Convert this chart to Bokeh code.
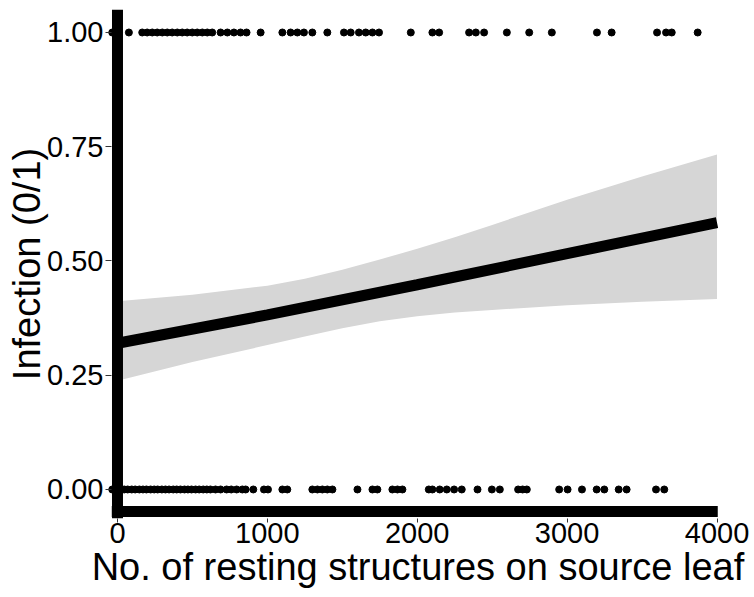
from bokeh.plotting import figure
from bokeh.models import Range1d, FixedTicker
from bokeh.embed import file_html
from bokeh.resources import INLINE

# Observations: infection = 1 (top row) and infection = 0 (bottom row)
infected_x = [-35, 0, 76, 165, 198, 232, 265, 299, 332, 365, 399, 432, 465, 499, 532,
              566, 599, 632, 688, 733, 777, 821, 861, 955, 1100, 1155, 1200, 1244,
              1300, 1400, 1511, 1556, 1611, 1656, 1701, 1745, 1957, 2101, 2146, 2346,
              2391, 2446, 2598, 2747, 2898, 3199, 3297, 3600, 3660, 3698, 3871]
healthy_x = [-35, 0, 22, 45, 68, 95, 118, 146, 170, 193, 221, 245, 268, 296, 320, 344,
             372, 395, 420, 447, 470, 494, 521, 545, 572, 596, 620, 654, 688, 728, 759,
             795, 833, 855, 906, 977, 1004, 1100, 1133, 1300, 1334, 1367, 1400, 1434,
             1601, 1701, 1734, 1834, 1868, 1901, 2077, 2101, 2150, 2197, 2246, 2297,
             2402, 2498, 2551, 2673, 2703, 2731, 2947, 3003, 3099, 3197, 3248, 3344,
             3397, 3593, 3648]

# Fitted logistic curve and its confidence band
fit_x = [0, 1000, 2000, 3000, 4000]
fit_y = [0.320, 0.382, 0.448, 0.516, 0.584]
band_x = [0, 500, 1000, 1250, 1500, 1750, 2000, 2250, 2500, 3000, 3500, 4000]
band_lo = [0.238, 0.279, 0.316, 0.335, 0.353, 0.368, 0.379, 0.387, 0.393, 0.403, 0.411, 0.417]
band_hi = [0.412, 0.426, 0.446, 0.461, 0.481, 0.503, 0.527, 0.552, 0.579, 0.634, 0.685, 0.733]

x_ticks = [0, 1000, 2000, 3000, 4000]
y_ticks = [0.0, 0.25, 0.5, 0.75, 1.0]
y_tick_labels = {0.0: "0.00", 0.25: "0.25", 0.5: "0.50", 0.75: "0.75", 1.0: "1.00"}

FONT = "Liberation Sans"

p = figure(width=754, height=597, output_backend="svg", toolbar_location=None,
           x_range=Range1d(-80, 4090), y_range=Range1d(-0.0635, 1.0503),
           min_border_left=105, min_border_right=24, min_border_top=9,
           min_border_bottom=79)
p.outline_line_color = None
p.xgrid.visible = False
p.ygrid.visible = False
p.background_fill_color = "white"
p.border_fill_color = "white"

p.varea(x=band_x, y1=band_lo, y2=band_hi, fill_color="#d6d6d6")
p.line(fit_x, fit_y, line_color="black", line_width=11)

p.scatter(infected_x, [1] * len(infected_x), size=7, color="black")
p.scatter(healthy_x, [0] * len(healthy_x), size=7, color="black")

# thick axis lines (drawn over the data, like the reference)
p.segment(x0=[0], y0=[1.0503], x1=[0], y1=[-0.0635], line_color="black", line_width=11)
p.segment(x0=[-38], y0=[-0.048], x1=[4005], y1=[-0.048], line_color="black", line_width=11)

xa = p.xaxis[0]
ya = p.yaxis[0]
xa.ticker = FixedTicker(ticks=x_ticks)
ya.ticker = FixedTicker(ticks=y_ticks)
ya.major_label_overrides = y_tick_labels
for ax in (xa, ya):
    ax.axis_line_color = None
    ax.minor_tick_line_color = None
    ax.major_tick_line_color = "#333333"
    ax.major_tick_line_width = 1
    ax.major_label_text_font = FONT
    ax.major_label_text_font_size = "29px"
    ax.major_label_text_color = "black"
    ax.axis_label_text_font = FONT
    ax.axis_label_text_font_size = "38px"
    ax.axis_label_text_font_style = "normal"
    ax.axis_label_text_color = "black"

xa.major_tick_in = 0
xa.major_tick_out = 4
xa.major_label_standoff = 0
xa.axis_label = "No. of resting structures on source leaf"
xa.axis_label_standoff = 0

ya.major_tick_in = 6
ya.major_tick_out = 0
ya.major_label_standoff = 2
ya.axis_label = "Infection (0/1)"
ya.axis_label_standoff = -4

open("out.html", "w").write(file_html(p, INLINE))
